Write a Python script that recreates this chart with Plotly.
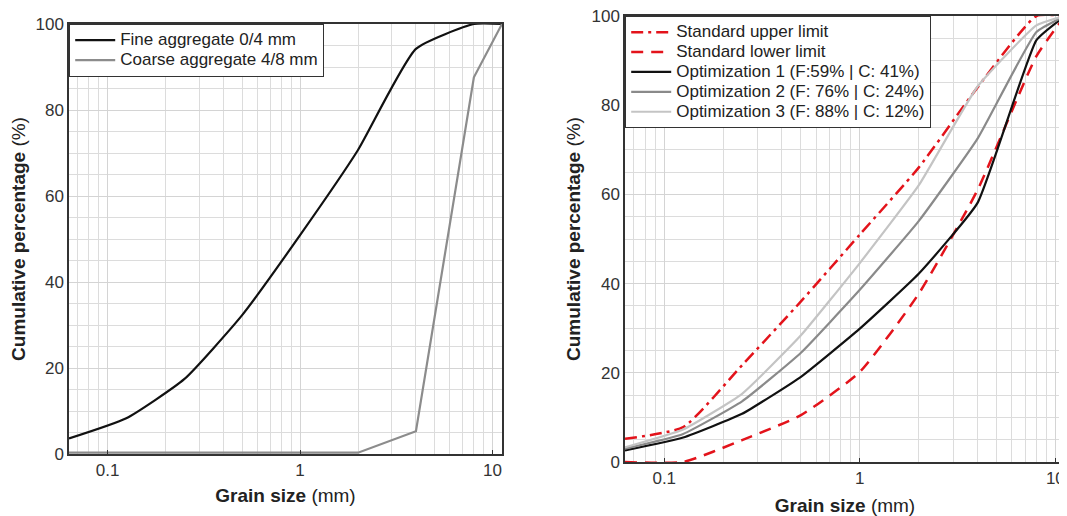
import math
import plotly.graph_objects as go

# ---- data ----
sieve = [0.063, 0.125, 0.25, 0.5, 1, 2, 4, 8, 11.2]
fine = [3.6, 8.3, 17.4, 32.3, 50.9, 70.7, 94.2, 100, 100]
coarse = [0.3, 0.3, 0.3, 0.3, 0.3, 0.3, 5.3, 87.6, 100]
upper = [5.2, 7.8, 21.7, 36.0, 51.0, 66.0, 84.0, 100, 100]
lower = [0, 0, 4.9, 10.5, 20.2, 37.7, 61.0, 91.0, 100]
opt1 = [2.6, 5.5, 10.8, 19.1, 29.9, 42.2, 58.1, 94.6, 100]
opt2 = [3.0, 6.3, 13.6, 24.5, 38.6, 54.0, 72.5, 96.4, 100]
opt3 = [3.3, 7.3, 15.3, 28.4, 44.6, 62.0, 84.2, 97.9, 100]

names_left = ["Fine aggregate 0/4 mm", "Coarse aggregate 4/8 mm"]
names_right = ["Standard upper limit", "Standard lower limit",
               "Optimization 1 (F:59% | C: 41%)",
               "Optimization 2 (F: 76% | C: 24%)",
               "Optimization 3 (F: 88% | C: 12%)"]

x_tick_vals = [0.1, 1, 10]
x_tick_text = ["0.1", "1", "10"]
minor_x = [k * 10 ** e for e in (-2, -1, 0, 1) for k in range(2, 10)]
minor_x = [v for v in minor_x if 0.063 <= v <= 11.2]

FONT = "Liberation Sans, Arial, sans-serif"
RED = "#e3131b"


def lg(name):
    return '<span style="font-size:17px">' + name + "</span>"


fig = go.Figure()

# left panel
fig.add_trace(go.Scatter(x=sieve, y=fine, name=lg(names_left[0]), mode="lines",
                         line=dict(color="#111111", width=2.2, shape="spline", smoothing=0.5),
                         xaxis="x", yaxis="y", legend="legend"))
fig.add_trace(go.Scatter(x=sieve, y=coarse, name=lg(names_left[1]), mode="lines",
                         line=dict(color="#8c8c8c", width=2.2),
                         xaxis="x", yaxis="y", legend="legend"))

# right panel
fig.add_trace(go.Scatter(x=sieve, y=upper, name=lg(names_right[0]), mode="lines",
                         line=dict(color=RED, width=2.5, dash="12px,5px,3px,5px", shape="spline", smoothing=0.5),
                         xaxis="x2", yaxis="y2", legend="legend2"))
fig.add_trace(go.Scatter(x=sieve, y=lower, name=lg(names_right[1]), mode="lines",
                         line=dict(color=RED, width=2.5, dash="12px,8px", shape="spline", smoothing=0.5),
                         xaxis="x2", yaxis="y2", legend="legend2"))
fig.add_trace(go.Scatter(x=sieve, y=opt1, name=lg(names_right[2]), mode="lines",
                         line=dict(color="#111111", width=2.2, shape="spline", smoothing=0.4),
                         xaxis="x2", yaxis="y2", legend="legend2"))
fig.add_trace(go.Scatter(x=sieve, y=opt2, name=lg(names_right[3]), mode="lines",
                         line=dict(color="#8a8a8a", width=2.2, shape="spline", smoothing=0.4),
                         xaxis="x2", yaxis="y2", legend="legend2"))
fig.add_trace(go.Scatter(x=sieve, y=opt3, name=lg(names_right[4]), mode="lines",
                         line=dict(color="#c4c4c4", width=2.2, shape="spline", smoothing=0.4),
                         xaxis="x2", yaxis="y2", legend="legend2"))

xrange = [math.log10(0.063), math.log10(11.2)]


def xaxis_style(domain, standoff):
    return dict(
        type="log", range=xrange, domain=domain, automargin=False,
        tickmode="array", tickvals=x_tick_vals, ticktext=x_tick_text,
        ticks="inside", ticklen=4, tickcolor="#333333",
        ticklabeloverflow="allow",
        showgrid=True, gridcolor="#d4d4d4", gridwidth=1,
        minor=dict(tickmode="array", tickvals=minor_x, showgrid=True,
                   gridcolor="#dcdcdc", gridwidth=1, ticks=""),
        showline=True, linecolor="#333333", linewidth=1.5, mirror=True,
        zeroline=False,
        tickfont=dict(size=17, color="#333333", family=FONT),
        title=dict(text="<b>Grain size</b> (mm)", font=dict(size=19, color="#222222", family=FONT),
                   standoff=standoff),
    )


def yaxis_style(domain, anchor):
    return dict(
        range=[0, 100], domain=domain, anchor=anchor, automargin=False,
        tickmode="linear", tick0=0, dtick=20,
        ticklabeloverflow="allow",
        ticks="", showgrid=True, gridcolor="#d4d4d4", gridwidth=1,
        minor=dict(dtick=5, showgrid=True, gridcolor="#dcdcdc", gridwidth=1),
        showline=True, linecolor="#333333", linewidth=1.5, mirror=True,
        zeroline=False,
        tickfont=dict(size=17, color="#333333", family=FONT),
        title=dict(text="<b>Cumulative percentage</b> (%)", font=dict(size=19, color="#222222", family=FONT),
                   standoff=6),
    )


W, H = 1067, 516
OFF = 8  # page body margin
lx = [(69 - OFF) / W, (502 - OFF) / W]
ly = [(H - (454 - OFF)) / H, (H - (24 - OFF)) / H]
rx = [(625 - OFF) / W, (1065 - OFF) / W]
ry = [(H - (462 - OFF)) / H, (H - (16 - OFF)) / H]

fig.update_layout(
    width=W, height=H,
    margin=dict(l=0, r=0, t=0, b=0, autoexpand=False),
    paper_bgcolor="white", plot_bgcolor="white",
    font=dict(family=FONT, color="#222222"),
    xaxis=dict(xaxis_style(lx, 10), anchor="y"),
    yaxis=yaxis_style(ly, "x"),
    xaxis2=dict(xaxis_style(rx, 12), anchor="y2"),
    yaxis2=yaxis_style(ry, "x2"),
    legend=dict(x=lx[0], y=ly[1], xanchor="left", yanchor="top",
                bgcolor="white", bordercolor="#333333", borderwidth=1.2,
                font=dict(size=13, color="#222222", family=FONT),
                tracegroupgap=0, itemwidth=40),
    legend2=dict(x=rx[0], y=ry[1], xanchor="left", yanchor="top",
                 bgcolor="white", bordercolor="#333333", borderwidth=1.2,
                 font=dict(size=13, color="#222222", family=FONT),
                 tracegroupgap=0, itemwidth=40),
    showlegend=True,
)

fig.write_html("out.html")
